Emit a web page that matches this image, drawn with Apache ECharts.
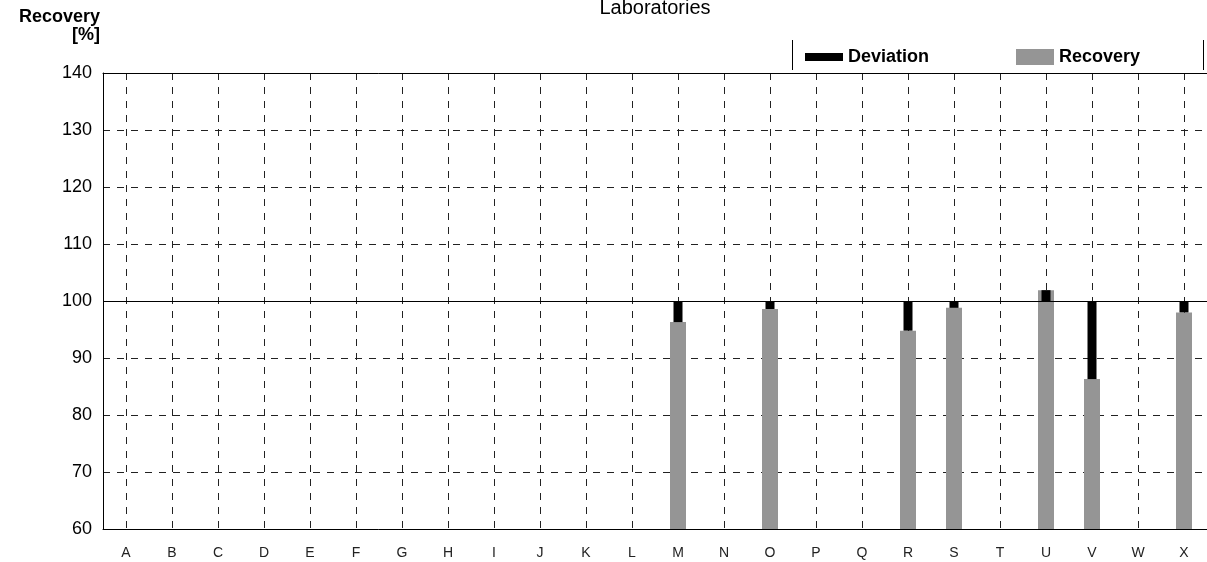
<!DOCTYPE html>
<html>
<head>
<meta charset="utf-8">
<script src="https://cdn.jsdelivr.net/npm/echarts@6/dist/echarts.min.js"></script>
<style>
  html, body { margin: 0; padding: 0; background: #fff; }
  #chart { width: 1207px; height: 562px; }
</style>
</head>
<body>
<div id="chart"></div>
<script>
// Laboratories on the x axis
const labs = ['A','B','C','D','E','F','G','H','I','J','K','L','M','N','O','P','Q','R','S','T','U','V','W','X'];
// Recovery per laboratory in %, null where no result was reported
const recovery = [null,null,null,null,null,null,null,null,null,null,null,null,96.3,null,98.6,null,null,94.8,98.8,null,101.9,86.3,null,98.0];
// Y axis ticks
const yTicks = [60, 70, 80, 90, 100, 110, 120, 130, 140];
const target = 100;

const FONT = "'Liberation Sans', Arial, sans-serif";

// Deviation bars float between the recovery value and the 100 % target
const devBase = recovery.map(v => v == null ? '-' : Math.min(v, target));
const devSize = recovery.map(v => v == null ? '-' : Math.abs(target - v));
const recData = recovery.map(v => v == null ? '-' : v);

const chart = echarts.init(document.getElementById('chart'), null, { renderer: 'canvas' });

chart.setOption({
  animation: false,
  backgroundColor: '#fff',
  textStyle: { fontFamily: FONT },
  grid: { left: 103, right: 0, top: 73, bottom: 33, containLabel: false, outerBoundsMode: 'none' },
  legend: [
    {
      data: [{ name: 'Deviation', icon: 'rect' }],
      left: 800, top: 43,
      itemWidth: 38, itemHeight: 8, itemGap: 5,
      selectedMode: false,
      textStyle: { fontFamily: FONT, fontSize: 18, fontWeight: 'bold', color: '#000' }
    },
    {
      data: [{ name: 'Recovery', icon: 'rect' }],
      left: 1011, top: 43,
      itemWidth: 38, itemHeight: 16, itemGap: 5,
      selectedMode: false,
      textStyle: { fontFamily: FONT, fontSize: 18, fontWeight: 'bold', color: '#000' }
    }
  ],
  xAxis: [
    {
      type: 'category',
      data: labs,
      position: 'bottom',
      axisLine: { show: true, lineStyle: { color: '#000', width: 1 } },
      axisTick: { show: false },
      axisLabel: { fontFamily: FONT, fontSize: 14, color: '#222', margin: 17 },
      splitLine: { show: true, alignWithLabel: true, lineStyle: { color: '#222', type: [7, 7], width: 1 } }
    },
    {
      type: 'category',
      data: labs,
      position: 'top',
      name: 'Laboratories',
      nameLocation: 'middle',
      nameGap: 55,
      nameTextStyle: { fontFamily: FONT, fontSize: 20, color: '#000' },
      axisLine: { show: true, lineStyle: { color: '#000', width: 1 } },
      axisTick: { show: false },
      axisLabel: { show: false },
      splitLine: { show: false }
    }
  ],
  yAxis: {
    type: 'value',
    min: yTicks[0],
    max: yTicks[yTicks.length - 1],
    interval: 10,
    name: 'Recovery\n[%]',
    nameLocation: 'end',
    nameGap: 29,
    nameTextStyle: { fontFamily: FONT, fontSize: 18, fontWeight: 'bold', color: '#000', align: 'right', lineHeight: 18, padding: [0, 3, 0, 0] },
    axisLine: { show: true, lineStyle: { color: '#000', width: 1 } },
    axisTick: { show: false },
    axisLabel: { fontFamily: FONT, fontSize: 18, color: '#000', margin: 11,
      formatter: v => (yTicks.includes(v) ? String(v) : '') },
    splitLine: {
      show: true,
      lineStyle: { color: '#222', type: [7, 7], width: 1 }
    }
  },
  series: [
    {
      name: 'Recovery',
      type: 'bar',
      xAxisIndex: 0,
      data: recData,
      barWidth: 16,
      itemStyle: { color: '#959595' },
      z: 2,
      markLine: {
        silent: true,
        symbol: 'none',
        label: { show: false },
        lineStyle: { color: '#000', type: 'solid', width: 1 },
        data: [{ yAxis: target }]
      }
    },
    {
      name: 'base',
      type: 'bar',
      xAxisIndex: 1,
      stack: 'dev',
      data: devBase,
      barWidth: 9,
      itemStyle: { color: 'transparent' },
      silent: true,
      z: 3
    },
    {
      name: 'Deviation',
      type: 'bar',
      xAxisIndex: 1,
      stack: 'dev',
      data: devSize,
      barWidth: 9,
      itemStyle: { color: '#000' },
      z: 4
    }
  ],
  graphic: [
    { type: 'line', shape: { x1: 792.5, y1: 40, x2: 792.5, y2: 70 }, style: { stroke: '#000', lineWidth: 1 } },
    { type: 'line', shape: { x1: 1203.5, y1: 40, x2: 1203.5, y2: 70 }, style: { stroke: '#000', lineWidth: 1 } }
  ]
});
</script>
</body>
</html>
